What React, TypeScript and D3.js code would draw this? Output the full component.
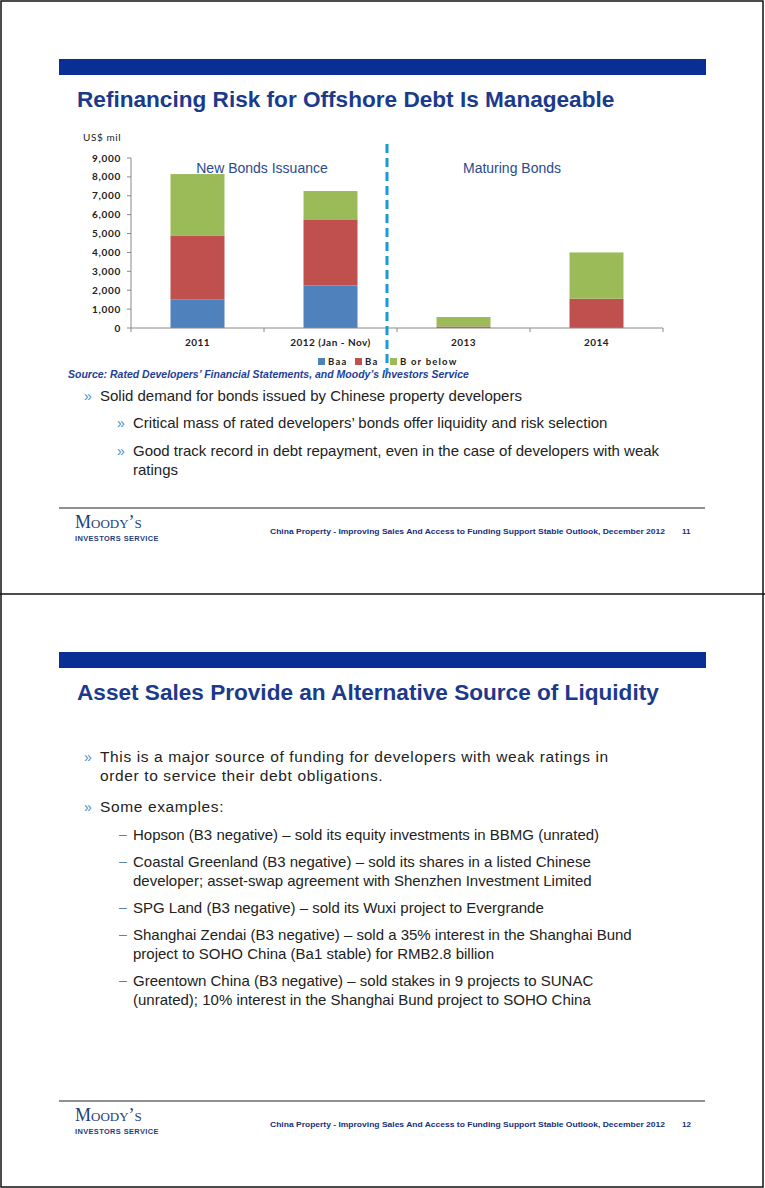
import React from "react";
import * as d3 from "d3";

const categories = ["2011", "2012 (Jan - Nov)", "2013", "2014"];
const seriesNames = ["Baa", "Ba", "B or below"];
const baaValues = [1500, 2250, 0, 0];
const baValues = [3400, 3500, 80, 1550];
const bValues = [3250, 1500, 500, 2450];
const yTicks = [0, 1000, 2000, 3000, 4000, 5000, 6000, 7000, 8000, 9000];
const seriesColors = ["#4f81bd", "#c0504d", "#9bbb59"];

const page1Bullets = [
  { level: 0, lines: ["Solid demand for bonds issued by Chinese property developers"] },
  { level: 1, lines: ["Critical mass of rated developers’ bonds offer liquidity and risk selection"] },
  { level: 1, lines: ["Good track record in debt repayment, even in the case of developers with weak", "ratings"] },
];
const page2Bullets = [
  { level: 0, lines: ["This is a major source of funding for developers with weak ratings in", "order to service their debt obligations."] },
  { level: 0, lines: ["Some examples:"] },
  { level: 1, lines: ["Hopson (B3 negative) – sold its equity investments in BBMG (unrated)"] },
  { level: 1, lines: ["Coastal Greenland (B3 negative) – sold its shares in a listed Chinese", "developer; asset-swap agreement with Shenzhen Investment Limited"] },
  { level: 1, lines: ["SPG Land (B3 negative) – sold its Wuxi project to Evergrande"] },
  { level: 1, lines: ["Shanghai Zendai (B3 negative) – sold a 35% interest in the Shanghai Bund", "project to SOHO China (Ba1 stable) for RMB2.8 billion"] },
  { level: 1, lines: ["Greentown China (B3 negative) – sold stakes in 9 projects to SUNAC", "(unrated); 10% interest in the Shanghai Bund project to SOHO China"] },
];

const FOOTER = "China Property - Improving Sales And Access to Funding Support Stable Outlook, December 2012";
const NAVY = "#0a2f94";
const TITLE = "#1b3a8c";
const ARIAL = "'Liberation Sans', Arial, sans-serif";
const CAL = "Lato, 'Open Sans', sans-serif";

function Footer({ y, page }: { y: number; page: string }) {
  return (
    <g>
      <line x1={59} x2={705} y1={y} y2={y} stroke="#222" strokeWidth={1} />
      <text x={75} y={y + 20} fontFamily="'Liberation Serif', serif" fontSize={18} fill="#1f3d7a" style={{ fontVariant: "small-caps" }}>Moody’s</text>
      <text x={75} y={y + 33} fontFamily={ARIAL} fontSize={7.4} fontWeight="bold" fill="#1f3d7a" letterSpacing={0.4}>INVESTORS SERVICE</text>
      <text x={270} y={y + 26} fontFamily={ARIAL} fontSize={8} fontWeight="bold" fill="#16307a" textLength={395} lengthAdjust="spacingAndGlyphs">{FOOTER}</text>
      <text x={682} y={y + 26} fontFamily={ARIAL} fontSize={8} fontWeight="bold" fill="#16307a">{page}</text>
    </g>
  );
}

function Bullets({ items, startY, gaps, dashes, topSize, topSpacing }: { items: typeof page1Bullets; startY: number; gaps: number[]; dashes: boolean; topSize: number; topSpacing: number }) {
  let y = startY;
  const out: React.ReactNode[] = [];
  items.forEach((it, i) => {
    const bx = it.level === 0 ? 84 : 117;
    const tx = it.level === 0 ? 100 : 133;
    const isDash = it.level === 1 && dashes;
    const fs = it.level === 0 ? topSize : 15;
    const ls = it.level === 0 ? topSpacing : 0;
    out.push(
      <text key={"b" + i} x={isDash ? 119 : bx} y={isDash ? y - 1.5 : y} fontFamily={ARIAL} fontSize={14} fill={isDash ? "#5b7fa8" : "#4a90c8"}>{isDash ? "–" : "»"}</text>
    );
    it.lines.forEach((ln, j) => {
      out.push(
        <text key={"t" + i + "_" + j} x={tx} y={y + j * 19} fontFamily={ARIAL} fontSize={fs} letterSpacing={ls} fill="#222">{ln}</text>
      );
    });
    y += (it.lines.length - 1) * 19 + (gaps[i] ?? 28);
  });
  return <g>{out}</g>;
}

export default function App() {
  const W = 765, H = 1188;
  const x = d3.scaleBand<string>().domain(categories).range([131, 663]).paddingInner(0.594).paddingOuter(0.297);
  const y = d3.scaleLinear().domain([0, 9000]).range([328, 158]);
  const stackData = categories.map((c, i) => ({ cat: c, Baa: baaValues[i], Ba: baValues[i], "B or below": bValues[i] }));
  const stacked = d3.stack<any>().keys(seriesNames)(stackData);
  const fmt = d3.format(",");
  const boundaries = [0, 1, 2, 3, 4].map((i) => 131 + i * x.step());

  return (
    <svg width={W} height={H} style={{ position: "absolute", left: 0, top: 0, background: "#fff" }}>
      <rect x={0} y={0} width={W} height={H} fill="#fff" />
      {/* page borders */}
      <rect x={1} y={1} width={762} height={1186} fill="none" stroke="#111" strokeWidth={1.5} />
      <line x1={0} x2={W} y1={594} y2={594} stroke="#111" strokeWidth={1.5} />

      {/* PAGE 1 */}
      <rect x={59} y={59} width={647} height={16} fill={NAVY} />
      <text x={77} y={107} fontFamily={ARIAL} fontSize={22.6} fontWeight="bold" fill={TITLE}>Refinancing Risk for Offshore Debt Is Manageable</text>

      <text x={83} y={141} fontFamily={CAL} fontSize={10} letterSpacing={0.6} fill="#222">US$ mil</text>

      {/* y axis */}
      <line x1={131} x2={131} y1={y(9000)} y2={y(0)} stroke="#888" />
      {yTicks.map((t) => (
        <g key={t}>
          <line x1={127} x2={131} y1={y(t)} y2={y(t)} stroke="#888" />
          <text x={121} y={y(t) + 3.5} textAnchor="end" fontFamily={CAL} fontSize={10} fontWeight="bold" letterSpacing={0.7} fill="#222">{fmt(t)}</text>
        </g>
      ))}
      {/* bars */}
      {stacked.map((s, si) => (
        <g key={s.key}>
          {s.map((d, i) => (
            d[1] - d[0] > 0 ? (
              <rect key={i} x={x(categories[i])!} width={x.bandwidth()} y={y(d[1])} height={y(d[0]) - y(d[1])} fill={seriesColors[si]} />
            ) : null
          ))}
        </g>
      ))}
      {/* x axis */}
      <line x1={131} x2={663} y1={y(0)} y2={y(0)} stroke="#888" />
      {boundaries.map((bx, i) => (
        <line key={i} x1={bx} x2={bx} y1={y(0)} y2={y(0) + 4} stroke="#888" />
      ))}
      {categories.map((c) => (
        <text key={c} x={x(c)! + x.bandwidth() / 2} y={346} textAnchor="middle" fontFamily={CAL} fontSize={10} fontWeight="bold" letterSpacing={0.5} fill="#222">{c}</text>
      ))}

      <text x={262} y={173} textAnchor="middle" fontFamily={ARIAL} fontSize={14} fill="#2b4a8c">New Bonds Issuance</text>
      <text x={512} y={173} textAnchor="middle" fontFamily={ARIAL} fontSize={14} fill="#2b4a8c">Maturing Bonds</text>

      <line x1={387} x2={387} y1={144} y2={372} stroke="#1a9ad6" strokeWidth={3} strokeDasharray="9 5" />

      {/* legend */}
      {seriesNames.map((n, i) => {
        const lx = [318, 355, 390][i];
        return (
          <g key={n}>
            <rect x={lx} y={358} width={7} height={7} fill={seriesColors[i]} />
            <text x={lx + 10} y={365} fontFamily={CAL} fontSize={9.5} fontWeight="bold" letterSpacing={1.2} fill="#222">{n}</text>
          </g>
        );
      })}

      <text x={68} y={378} fontFamily={ARIAL} fontSize={10.5} fontWeight="bold" fontStyle="italic" fill="#1f3f96">Source:  Rated Developers’ Financial Statements, and Moody’s Investors Service</text>

      <Bullets items={page1Bullets} startY={401} gaps={[27, 28, 28]} dashes={false} topSize={15} topSpacing={0} />

      <Footer y={508} page="11" />

      {/* PAGE 2 */}
      <rect x={59} y={652} width={647} height={16} fill={NAVY} />
      <text x={77} y={700} fontFamily={ARIAL} fontSize={22.6} fontWeight="bold" fill={TITLE}>Asset Sales Provide an Alternative Source of Liquidity</text>

      <Bullets items={page2Bullets} startY={762} gaps={[31, 28, 27, 27, 27, 27, 27, 27, 27, 27, 27]} dashes={true} topSize={15.5} topSpacing={0.62} />

      <Footer y={1101} page="12" />
    </svg>
  );
}
